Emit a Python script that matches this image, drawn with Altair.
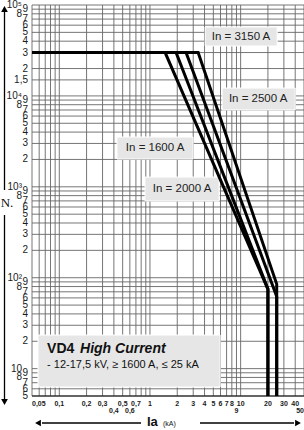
import pandas as pd
import altair as alt

FONT = "Liberation Sans, Arial, Helvetica, sans-serif"

# ---------------- curve data ----------------
series = ["In = 1600 A", "In = 2000 A", "In = 2500 A", "In = 3150 A"]
plateau_ops = 30000                 # N. on the flat part
start_ia = 0.05                     # kA, left end of the flat part
knee_ia = [1.47, 1.94, 2.5, 3.4]    # kA where each curve leaves the plateau
end_ia = [20, 20, 25, 25]           # kA at the foot of the sloping part
end_ops = [75, 75, 62, 85]          # N. at the foot of the sloping part
floor_ops = 5                       # N. at the bottom of the vertical drop

# ---------------- grid and tick labels ----------------
x_grid = [0.05, 0.06, 0.07, 0.08, 0.09, 0.1, 0.2, 0.3, 0.4, 0.5, 0.6, 0.7, 0.8, 0.9,
          1, 2, 3, 4, 5, 6, 7, 8, 9, 10, 20, 30, 40, 50]
x_label_values = [0.05, 0.1, 0.2, 0.3, 0.4, 0.5, 0.6, 0.7, 1, 2, 3, 4, 5, 6, 7, 8, 9,
                  10, 20, 30, 40, 50]
x_label_texts = ["0,05", "0,1", "0,2", "0,3", "0,4", "0,5", "0,6", "0,7", "1", "2", "3",
                 "4", "5", "6", "7", "8", "9", "10", "20", "30", "40", "50"]
x_second_row = [0.4, 0.6, 9, 50]

y_grid = [5, 6, 7, 8, 9,
          10, 20, 30, 40, 50, 60, 70, 80, 90,
          100, 200, 300, 400, 500, 600, 700, 800, 900,
          1000, 2000, 3000, 4000, 5000, 6000, 7000, 8000, 9000,
          10000, 15000, 20000, 30000, 40000, 50000, 60000, 70000, 80000, 90000,
          100000]
y_label_texts = ["5", "6", "7", "8", "9",
                 "10", "2", "3", "4", "5", "6", "7", "8", "9",
                 "10²", "2", "3", "4", "5", "6", "7", "8", "9",
                 "10³", "2", "3", "4", "5", "6", "7", "8", "9",
                 "10⁴", "1,5", "2", "3", "4", "5", "6", "7", "8", "9",
                 "10⁵"]
y_shifted = [8, 10, 80, 100, 800, 1000, 8000, 10000, 80000, 100000]

# ---------------- annotations ----------------
label_texts = ["In = 3150 A", "In = 2500 A", "In = 1600 A", "In = 2000 A"]
box_x1 = [4.06, 6.25, 0.433, 0.883]
box_x2 = [25.3, 40.0, 2.99, 5.79]
box_y1 = [57300, 12200, 3530, 1280]
box_y2 = [35400, 7000, 2020, 698]
text_x = [10.1, 15.6, 1.14, 2.26]
text_y = [44500, 9250, 2670, 946]

info_box = {"x1": 0.0582, "x2": 5.94, "y1": 23.4, "y2": 6.28}
info_lines = [
    {"t": "VD4", "x": 0.0733, "y": 14.9, "w": "bold", "s": "normal", "fs": 14},
    {"t": "High Current", "x": 0.1695, "y": 14.9, "w": "bold", "s": "italic", "fs": 14},
    {"t": "- 12-17,5 kV, ≥ 1600 A, ≤ 25 kA", "x": 0.0733, "y": 10.2, "w": "normal",
     "s": "normal", "fs": 11},
]

# ---------------- tables ----------------
rows = []
for s, k, ei, en in zip(series, knee_ia, end_ia, end_ops):
    pts = [(start_ia, plateau_ops), (k, plateau_ops), (ei, en), (ei, floor_ops)]
    for i, (a, n) in enumerate(pts):
        rows.append({"series": s, "idx": i, "ia": a, "ops": n})
lines_df = pd.DataFrame(rows)

boxes_df = pd.DataFrame({"x1": box_x1, "x2": box_x2, "y1": box_y1, "y2": box_y2})
labels_df = pd.DataFrame({"tx": text_x, "ty": text_y, "label": label_texts})
info_df = pd.DataFrame([info_box])
one = pd.DataFrame({"k": [0]})
xgrid_df = pd.DataFrame({"v": x_grid})
ygrid_df = pd.DataFrame({"v": y_grid})
ylab_df = pd.DataFrame({"v": y_grid, "t": y_label_texts,
                        "shift": [v in y_shifted for v in y_grid]})
xlab_df = pd.DataFrame({"v": x_label_values, "t": x_label_texts,
                        "row2": [v in x_second_row for v in x_label_values]})

W, H = 272, 391
x_scale = alt.Scale(type="log", domain=[0.05, 50], nice=False)
y_scale = alt.Scale(type="log", domain=[5, 100000], nice=False)
GRID = "#666666"


def X(field):
    return alt.X(field, scale=x_scale, axis=None)


def Y(field):
    return alt.Y(field, scale=y_scale, axis=None)


# ---------------- grid ----------------
xgrid = alt.Chart(xgrid_df).mark_rule(color=GRID, strokeWidth=0.9).encode(
    x=X("v:Q"), y=alt.value(0), y2=alt.value(H))
ygrid = alt.Chart(ygrid_df).mark_rule(color=GRID, strokeWidth=0.9).encode(
    y=Y("v:Q"), x=alt.value(0), x2=alt.value(W))
baseline = alt.Chart(pd.DataFrame({"v": [floor_ops]})).mark_rule(
    color="#111", strokeWidth=1.2).encode(y=Y("v:Q"), x=alt.value(0), x2=alt.value(W))

# ---------------- boxes and curves ----------------
boxes = alt.Chart(boxes_df).mark_rect(fill="#e6e6e6", stroke="white", strokeWidth=1).encode(
    x=X("x1:Q"), x2="x2:Q", y=Y("y1:Q"), y2="y2:Q")
info_rect = alt.Chart(info_df).mark_rect(fill="#e6e6e6", stroke="white", strokeWidth=1).encode(
    x=X("x1:Q"), x2="x2:Q", y=Y("y1:Q"), y2="y2:Q")

curves = alt.Chart(lines_df).mark_line(color="black", strokeWidth=3, strokeJoin="miter",
                                       strokeCap="butt").encode(
    x=X("ia:Q"), y=Y("ops:Q"), detail="series:N", order="idx:Q")

labels = alt.Chart(labels_df).mark_text(font=FONT, fontSize=11.5, color="#222",
                                        align="center", baseline="middle").encode(
    x=X("tx:Q"), y=Y("ty:Q"), text="label:N")

info_texts = []
for ln in info_lines:
    d = pd.DataFrame([{"x": ln["x"], "y": ln["y"], "t": ln["t"]}])
    info_texts.append(alt.Chart(d).mark_text(
        font=FONT, fontSize=ln["fs"], fontWeight=ln["w"], fontStyle=ln["s"],
        color="#111", align="left", baseline="alphabetic").encode(
        x=X("x:Q"), y=Y("y:Q"), text="t:N"))

# ---------------- tick labels through the scales ----------------
tick_layers = []
for shifted, px in [(False, -4), (True, -10)]:
    tick_layers.append(alt.Chart(ylab_df).transform_filter(
        alt.datum.shift == shifted).mark_text(
        font=FONT, fontSize=10, color="#1a1a1a", align="right", baseline="middle").encode(
        x=alt.value(px), y=Y("v:Q"), text="t:N"))

for row2, align, py, cond in [
        (False, "left", 399, "datum.v == 0.05"),
        (False, "center", 399, "datum.v != 0.05"),
        (True, "center", 406, "datum.v != 50"),
        (True, "right", 406, "datum.v == 50")]:
    tick_layers.append(alt.Chart(xlab_df).transform_filter(
        alt.datum.row2 == row2).transform_filter(cond).mark_text(
        font=FONT, fontSize=7, fontWeight="bold", color="#1a1a1a", align=align,
        baseline="middle").encode(
        x=X("v:Q"), y=alt.value(py), text="t:N"))

# ---------------- decorations (arrows, axis names) ----------------
deco = []
for (x1, y1, x2, y2) in [(-27.5, 7, -27.5, 185), (-27.5, 210, -27.5, 394),
                         (10, 418, 109, 418), (168, 418, 262, 418)]:
    deco.append(alt.Chart(one).mark_rule(color="black", strokeWidth=1.3).encode(
        x=alt.value(x1), x2=alt.value(x2), y=alt.value(y1), y2=alt.value(y2)))
for (shape, x, y) in [("triangle-up", -27.5, 4), ("triangle-down", -27.5, 397),
                      ("triangle-left", 6, 418), ("triangle-right", 266, 418)]:
    deco.append(alt.Chart(one).mark_point(shape=shape, filled=True, color="black",
                                          opacity=1, size=45).encode(
        x=alt.value(x), y=alt.value(y)))
deco.append(alt.Chart(one).mark_text(text="N.", font="Liberation Serif, DejaVu Serif, serif",
                                     fontSize=13, color="#111", align="center",
                                     baseline="middle").encode(
    x=alt.value(-25), y=alt.value(198)))
deco.append(alt.Chart(one).mark_text(text="Ia", font=FONT, fontSize=13, fontWeight="bold",
                                     color="#111", align="left",
                                     baseline="middle").encode(
    x=alt.value(115), y=alt.value(417)))
deco.append(alt.Chart(one).mark_text(text="(kA)", font=FONT, fontSize=7, color="#111",
                                     align="left", baseline="middle").encode(
    x=alt.value(131), y=alt.value(419)))

chart = alt.layer(xgrid, ygrid, baseline, boxes, info_rect, curves, labels, *info_texts,
                  *tick_layers, *deco).properties(
    width=W, height=H,
    padding={"left": 32, "top": 5, "right": 0, "bottom": 34},
    autosize=alt.AutoSizeParams(type="none"),
    background="white",
).configure_view(stroke=None)

chart.save("out.html", embed_options={"renderer": "svg", "actions": False})
